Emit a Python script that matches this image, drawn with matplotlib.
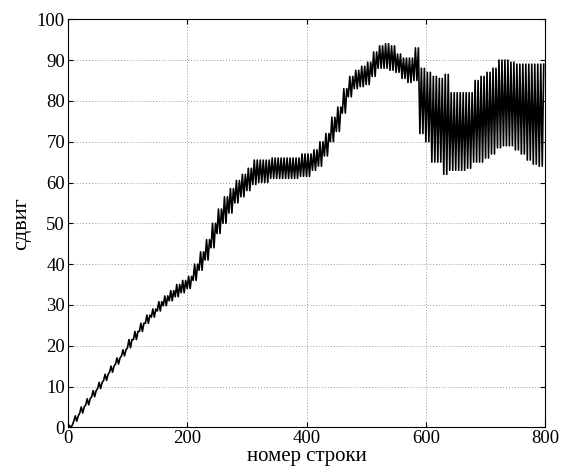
import numpy as np
import matplotlib.pyplot as plt

# envelope of the shift curve, read every 10 rows
rows = list(range(0, 801, 10))
shift_lo = [0, 1.5, 3.5, 5.5, 7.5, 9.5, 11.5, 13.5, 15.5, 17.5,
            19.5, 21.5, 23.5, 25.5, 27, 28.5, 29.8, 31, 32, 33,
            34, 36, 38.5, 41, 44, 47.5, 50, 52.5, 55, 56.5,
            58, 59.5, 60, 60, 61, 61, 61, 61, 61, 61.5,
            61.5, 63, 64, 66.5, 70, 72.5, 77, 81, 83, 83.5,
            84, 86, 88, 88, 87.5, 87, 85.5, 84.5, 85, 72,
            70, 65, 65, 62, 63, 63, 63, 63.5, 65, 65,
            66, 67, 68.5, 69, 69, 68, 67, 65.5, 64.5, 64, 64]
shift_hi = [0.5, 2.8, 5, 7, 9, 11, 13, 15, 17, 19,
            21.5, 23.5, 25.5, 27.5, 29, 30.8, 32.2, 33.5, 35, 36,
            37, 40, 43, 46, 50, 53.5, 56.5, 58.5, 60.5, 62,
            63.5, 65.5, 65.5, 65.5, 66, 66, 66, 66, 66, 67,
            67, 68, 70, 72, 76, 78.5, 83, 86, 87.5, 88.5,
            89.5, 92, 93.5, 94, 93.5, 91.5, 90.5, 90.5, 93, 88,
            87, 86, 85.5, 86.5, 82, 82, 82, 82, 85, 86,
            87, 88, 90, 90, 89.5, 89, 89, 89, 89, 89, 89]

# the shift jumps between low and high with a period of about 5 rows
x = []
y = []
for r, lo, hi in zip(rows, shift_lo, shift_hi):
    x += [r, r + 2.5, r + 5, r + 7.5]
    y += [lo, hi, lo, hi]
x = np.array(x)
y = np.array(y)
keep = x <= 798
x, y = x[keep], y[keep]

plt.rcParams['font.family'] = ['Liberation Serif', 'DejaVu Serif']

fig = plt.figure(figsize=(5.65, 4.73), dpi=100)
ax = fig.add_axes([0.120, 0.0966, 0.845, 0.8626])
ax.plot(x, y, color='black', lw=1.2)

ax.set_xlim(0, 800)
ax.set_ylim(0, 100)
ax.set_xticks([0, 200, 400, 600, 800])
ax.set_yticks(range(0, 101, 10))
ax.grid(True, color='#999999', linestyle=(0, (1, 2)), lw=0.7)
ax.tick_params(direction='in', top=True, right=True, length=3.5,
               labelsize=13.5, pad=2)
for s in ax.spines.values():
    s.set_linewidth(0.8)

ax.set_xlabel('номер строки', fontsize=15, labelpad=0)
ax.set_ylabel('сдвиг', fontsize=16, labelpad=4)

plt.savefig('out.png', dpi=100)
